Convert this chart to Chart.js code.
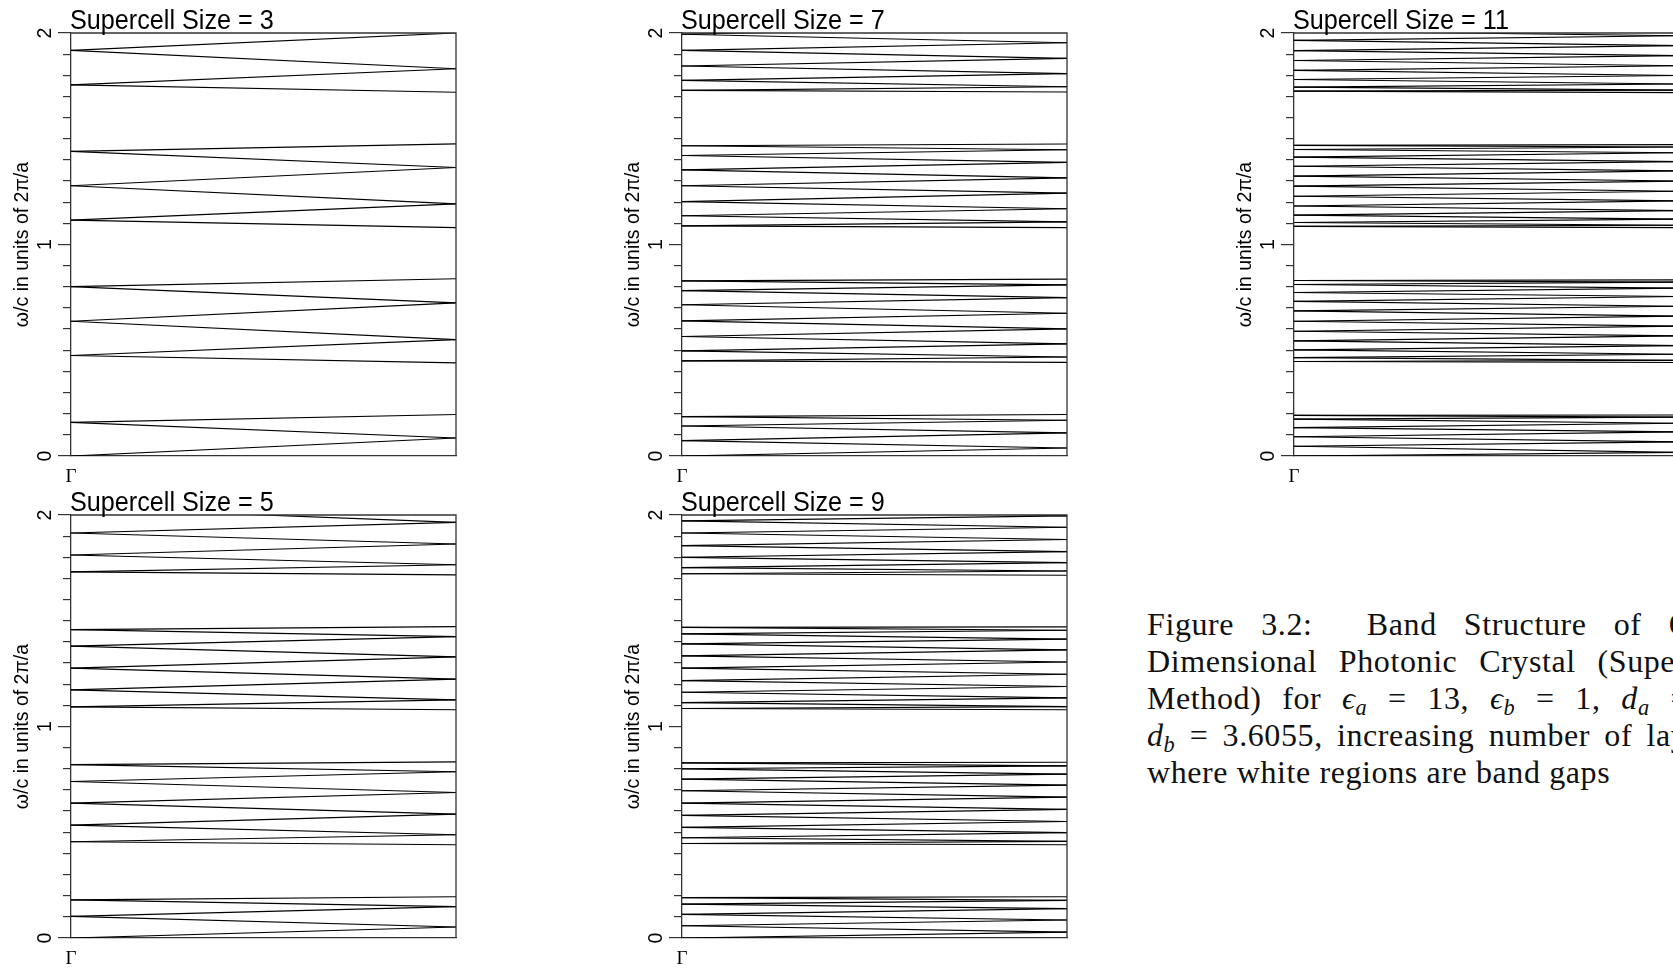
<!DOCTYPE html>
<html>
<head>
<meta charset="utf-8">
<script src="https://cdn.jsdelivr.net/npm/chart.js@4.4.1/dist/chart.umd.min.js"></script>
<style>
  html, body { margin: 0; padding: 0; background: #fff; overflow: hidden; width: 1673px; height: 969px; }
  canvas.panel { position: absolute; }
  .cap { position: absolute; left: 1147px; font-family: "Liberation Serif", "Times New Roman", serif;
         font-size: 32px; letter-spacing: 0.6px; line-height: 37px; color: #111; white-space: nowrap; }
  .cap.just { width: 588px; text-align: justify; text-align-last: justify; }
  .cap sub { font-size: 0.7em; vertical-align: -0.25em; line-height: 0; }
  .cap i { font-style: italic; }
</style>
</head>
<body>
<canvas id="p3"  class="panel" width="466" height="496" style="left:0px;top:0px"></canvas>
<canvas id="p7"  class="panel" width="466" height="496" style="left:611px;top:0px"></canvas>
<canvas id="p11" class="panel" width="466" height="496" style="left:1223px;top:0px"></canvas>
<canvas id="p5"  class="panel" width="466" height="496" style="left:0px;top:482px"></canvas>
<canvas id="p9"  class="panel" width="466" height="496" style="left:611px;top:482px"></canvas>

<div class="cap just" style="top:606px">Figure 3.2:&nbsp; Band Structure of One-</div>
<div class="cap just" style="top:643px">Dimensional Photonic Crystal (Supercell</div>
<div class="cap just" style="top:680px">Method) for <i>ϵ<sub>a</sub></i> = 13, <i>ϵ<sub>b</sub></i> = 1, <i>d<sub>a</sub></i> = 1,</div>
<div class="cap just" style="top:717px"><i>d<sub>b</sub></i> = 3.6055, increasing number of layers,</div>
<div class="cap" style="top:754px">where white regions are band gaps</div>

<script>
// Folded band frequencies (ω/c in units of 2π/a) for each supercell size.
// Each band segment runs from its value at Γ (gammaN[i]) to its value at the
// supercell zone edge (edgeN[i]).
const gamma3 = [0, 0.159, 0.159, 0.475, 0.475, 0.637, 0.637, 0.801, 0.801,
  1.115, 1.115, 1.278, 1.278, 1.440, 1.440, 1.755, 1.755, 1.918, 1.918];
const edge3 = [0.085, 0.085, 0.196, 0.440, 0.550, 0.550, 0.724, 0.724, 0.838,
  1.080, 1.192, 1.192, 1.364, 1.364, 1.476, 1.720, 1.831, 1.831, 2.000];

const gamma5 = [0, 0.102, 0.102, 0.180, 0.180,
  0.455, 0.455, 0.534, 0.534, 0.638, 0.638, 0.740, 0.740, 0.820, 0.820,
  1.093, 1.093, 1.173, 1.173, 1.276, 1.276, 1.380, 1.380, 1.458, 1.458,
  1.731, 1.731, 1.811, 1.811, 1.915, 1.915, 2.035];
const edge5 = [0.052, 0.052, 0.148, 0.148, 0.195,
  0.441, 0.488, 0.488, 0.586, 0.586, 0.688, 0.688, 0.786, 0.786, 0.833,
  1.079, 1.126, 1.126, 1.224, 1.224, 1.329, 1.329, 1.425, 1.425, 1.472,
  1.717, 1.765, 1.765, 1.863, 1.863, 1.965, 1.965];

const gamma7 = [0, 0.073, 0.073, 0.142, 0.142, 0.186, 0.186,
  0.450, 0.450, 0.497, 0.497, 0.565, 0.565, 0.639, 0.639, 0.715, 0.715, 0.782, 0.782, 0.828, 0.828,
  1.088, 1.088, 1.136, 1.136, 1.203, 1.203, 1.278, 1.278, 1.353, 1.353, 1.421, 1.421, 1.467, 1.467,
  1.729, 1.729, 1.776, 1.776, 1.844, 1.844, 1.918, 1.918, 1.994, 1.994];
const edge7 = [0.038, 0.038, 0.109, 0.109, 0.169, 0.169, 0.196,
  0.443, 0.468, 0.468, 0.530, 0.530, 0.601, 0.601, 0.675, 0.675, 0.749, 0.749, 0.809, 0.809, 0.836,
  1.080, 1.107, 1.107, 1.169, 1.169, 1.243, 1.243, 1.315, 1.315, 1.388, 1.388, 1.448, 1.448, 1.475,
  1.721, 1.746, 1.746, 1.808, 1.808, 1.880, 1.880, 1.954, 1.954, 2.030];

const gamma9 = [0, 0.058, 0.058, 0.112, 0.112, 0.160, 0.160, 0.191, 0.191,
  0.447, 0.447, 0.474, 0.474, 0.523, 0.523, 0.580, 0.580, 0.638, 0.638, 0.696, 0.696, 0.751, 0.751, 0.800, 0.800, 0.828, 0.828,
  1.085, 1.085, 1.113, 1.113, 1.162, 1.162, 1.217, 1.217, 1.276, 1.276, 1.334, 1.334, 1.391, 1.391, 1.438, 1.438, 1.469, 1.469,
  1.722, 1.722, 1.751, 1.751, 1.800, 1.800, 1.855, 1.855, 1.915, 1.915, 1.972, 1.972, 2.040];
const edge9 = [0.028, 0.028, 0.085, 0.085, 0.139, 0.139, 0.178, 0.178, 0.195,
  0.441, 0.457, 0.457, 0.498, 0.498, 0.551, 0.551, 0.608, 0.608, 0.666, 0.666, 0.723, 0.723, 0.775, 0.775, 0.814, 0.814, 0.831,
  1.079, 1.094, 1.094, 1.135, 1.135, 1.189, 1.189, 1.247, 1.247, 1.305, 1.305, 1.362, 1.362, 1.413, 1.413, 1.455, 1.455, 1.471,
  1.715, 1.735, 1.735, 1.775, 1.775, 1.827, 1.827, 1.884, 1.884, 1.942, 1.942, 1.996, 1.996];

const gamma11 = [0, 0.046, 0.046, 0.091, 0.091, 0.134, 0.134, 0.174, 0.174, 0.192, 0.192,
  0.447, 0.447, 0.465, 0.465, 0.502, 0.502, 0.544, 0.544, 0.590, 0.590, 0.637, 0.637, 0.686, 0.686, 0.731, 0.731, 0.773, 0.773, 0.811, 0.811, 0.830, 0.830,
  1.086, 1.086, 1.104, 1.104, 1.139, 1.139, 1.182, 1.182, 1.228, 1.228, 1.276, 1.276, 1.323, 1.323, 1.370, 1.370, 1.413, 1.413, 1.449, 1.449, 1.469, 1.469,
  1.725, 1.725, 1.744, 1.744, 1.780, 1.780, 1.823, 1.823, 1.870, 1.870, 1.917, 1.917, 1.965, 1.965, 2.010];
const edge11 = [0.017, 0.017, 0.067, 0.067, 0.114, 0.114, 0.155, 0.155, 0.184, 0.184, 0.194,
  0.442, 0.452, 0.452, 0.481, 0.481, 0.522, 0.522, 0.568, 0.568, 0.614, 0.614, 0.661, 0.661, 0.708, 0.708, 0.754, 0.754, 0.794, 0.794, 0.822, 0.822, 0.833,
  1.080, 1.091, 1.091, 1.120, 1.120, 1.160, 1.160, 1.206, 1.206, 1.252, 1.252, 1.300, 1.300, 1.348, 1.348, 1.392, 1.392, 1.434, 1.434, 1.461, 1.461, 1.472,
  1.718, 1.730, 1.730, 1.759, 1.759, 1.799, 1.799, 1.845, 1.845, 1.893, 1.893, 1.940, 1.940, 1.987, 1.987];

const yTitle = 'ω/c in units of 2π/a';
const kLabel = 'Γ';
const titlePrefix = 'Supercell Size = ';

const SANS = '"Liberation Sans", Arial, Helvetica, sans-serif';
const SERIF = '"Liberation Serif", "Times New Roman", serif';
const frameColor = '#333';
const bandColor = '#000';

// Draws the top/right sides of the box and the panel heading.
const panelFrame = {
  id: 'panelFrame',
  afterDraw(chart, args, opts) {
    const { ctx, chartArea: a } = chart;
    ctx.save();
    ctx.strokeStyle = frameColor;
    ctx.lineWidth = 1.3;
    ctx.beginPath();
    ctx.moveTo(a.left, a.top);
    ctx.lineTo(a.right, a.top);
    ctx.lineTo(a.right, a.bottom);
    ctx.stroke();
    ctx.fillStyle = '#000';
    ctx.font = '28px ' + SANS;
    ctx.textBaseline = 'alphabetic';
    ctx.translate(a.left - 1, a.top - 4.5);
    ctx.scale(0.9, 1);
    ctx.fillText(opts.title, 0, 0);
    ctx.restore();
  }
};

function makePanel(id, size, gamma, edge) {
  const datasets = gamma.map((g, i) => ({
    data: [{ x: 0, y: g }, { x: 1, y: edge[i] }],
    yAxisID: 'y',
    borderColor: bandColor,
    borderWidth: 1.15,
    pointRadius: 0,
    tension: 0,
    fill: false
  }));
  return new Chart(document.getElementById(id), {
    type: 'line',
    data: { datasets },
    options: {
      responsive: false,
      animation: false,
      devicePixelRatio: 1,
      events: [],
      layout: { padding: { top: 33, right: 0, left: 0, bottom: 0 } },
      plugins: {
        legend: { display: false },
        tooltip: { enabled: false },
        panelFrame: { title: titlePrefix + size }
      },
      scales: {
        x: {
          type: 'linear', min: 0, max: 1,
          grid: { display: false, drawTicks: false },
          border: { display: true, color: frameColor, width: 1.3 },
          ticks: {
            stepSize: 1, autoSkip: false, maxRotation: 0, padding: 10,
            color: '#000', font: { family: SERIF, size: 19 },
            callback: v => (v === 0 ? kLabel : '')
          },
          afterFit: s => { s.height = 40; }
        },
        y: {
          type: 'linear', axis: 'y', position: 'left', weight: 0, min: 0, max: 2,
          ticks: { display: false, stepSize: 0.1 },
          grid: { display: true, drawOnChartArea: false, drawTicks: true, tickLength: 8, color: frameColor, lineWidth: 1.2 },
          border: { display: true, color: frameColor, width: 1.3 },
          afterFit: s => { s.width = 8; }
        },
        yMajor: {
          type: 'linear', axis: 'y', position: 'left', weight: 1, min: 0, max: 2,
          ticks: {
            stepSize: 1, minRotation: 90, maxRotation: 90, padding: 12, labelOffset: -5.4,
            color: '#000', font: { family: SANS, size: 19.5 }
          },
          grid: { display: true, drawOnChartArea: false, drawTicks: true, tickLength: 5, color: frameColor, lineWidth: 1.2 },
          border: { display: false },
          title: { display: true, text: yTitle, color: '#000', font: { family: SANS, size: 19.5 }, padding: { top: 11, bottom: 0 } },
          afterFit: s => { s.width = 63; }
        }
      }
    },
    plugins: [panelFrame]
  });
}

makePanel('p3', 3, gamma3, edge3);
makePanel('p7', 7, gamma7, edge7);
makePanel('p11', 11, gamma11, edge11);
makePanel('p5', 5, gamma5, edge5);
makePanel('p9', 9, gamma9, edge9);
</script>
</body>
</html>
